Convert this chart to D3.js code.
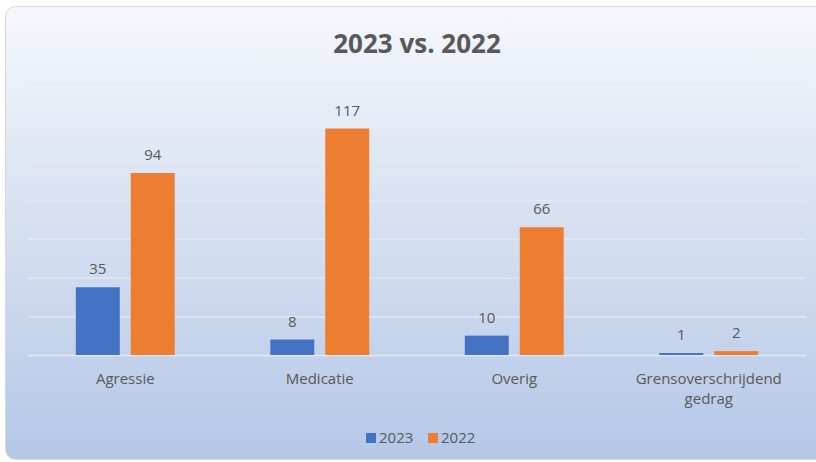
<!DOCTYPE html>
<html>
<head>
<meta charset="utf-8">
<script src="https://cdn.jsdelivr.net/npm/d3@7"></script>
<style>
  body { margin: 0; background: #ffffff; }
  text { font-family: "Open Sans", "Noto Sans", sans-serif; }
</style>
</head>
<body>
<svg id="chart" width="816" height="462"></svg>
<script>
var categories = ["Agressie", "Medicatie", "Overig", "Grensoverschrijdend gedrag"];
var series = ["2023", "2022"];
var values2023 = [35, 8, 10, 1];
var values2022 = [94, 117, 66, 2];
var yTicks = [0, 20, 40, 60, 80, 100, 120, 140];

var colors = { "2023": "#4472c4", "2022": "#ed7d31" };

var width = 816, height = 462;
var svg = d3.select("#chart");

// background with gradient
var defs = svg.append("defs");
var grad = defs.append("linearGradient")
    .attr("id", "bg")
    .attr("x1", 0).attr("y1", 0)
    .attr("x2", 0).attr("y2", 1);
grad.append("stop").attr("offset", "0%").attr("stop-color", "#f5f7fb");
grad.append("stop").attr("offset", "100%").attr("stop-color", "#b4c7e7");

svg.append("rect")
    .attr("x", 5.5).attr("y", 6.5)
    .attr("width", 820).attr("height", 453)
    .attr("rx", 10).attr("ry", 10)
    .style("fill", "url(#bg)")
    .style("stroke", "#d9d9d9")
    .style("stroke-width", 1);

var margin = { left: 28, right: 10, top: 84, bottom: 107 };
var plotW = width - margin.left - margin.right,
    plotH = height - margin.top - margin.bottom;

var x0 = d3.scaleBand()
    .domain(categories)
    .range([margin.left, margin.left + plotW])
    .paddingInner(0)
    .paddingOuter(0);

var x1 = d3.scaleBand()
    .domain(series)
    .range([0, x0.bandwidth()])
    .paddingInner(0.2)
    .paddingOuter(0.87);

var y = d3.scaleLinear()
    .domain([0, 140])
    .range([margin.top + plotH, margin.top]);

// gridlines
svg.append("g")
    .selectAll("line")
    .data(yTicks)
    .enter().append("line")
    .attr("x1", margin.left)
    .attr("x2", margin.left + plotW)
    .attr("y1", function(d) { return y(d) + 0.5; })
    .attr("y2", function(d) { return y(d) + 0.5; })
    .style("stroke", "#e4e9f1")
    .style("stroke-width", function(d) { return d === 0 ? 1.5 : 1.2; });

// bars
var data = [];
categories.forEach(function(c, i) {
    data.push({ cat: c, s: "2023", v: values2023[i] });
    data.push({ cat: c, s: "2022", v: values2022[i] });
});

var bars = svg.append("g");
bars.selectAll("rect")
    .data(data)
    .enter().append("rect")
    .attr("x", function(d) { return x0(d.cat) + x1(d.s); })
    .attr("y", function(d) { return y(d.v); })
    .attr("width", x1.bandwidth())
    .attr("height", function(d) { return y(0) - y(d.v); })
    .style("fill", function(d) { return colors[d.s]; });

bars.selectAll("text")
    .data(data)
    .enter().append("text")
    .attr("x", function(d) { return x0(d.cat) + x1(d.s) + x1.bandwidth() / 2; })
    .attr("y", function(d) { return y(d.v) - 13; })
    .attr("text-anchor", "middle")
    .style("font-size", "15px")
    .style("fill", "#595959")
    .text(function(d) { return d.v; });

// category axis labels
var xAxis = svg.append("g")
    .attr("transform", "translate(0," + y(0) + ")")
    .call(d3.axisBottom(x0).tickSize(0).tickPadding(0));
xAxis.select(".domain").remove();
xAxis.selectAll(".tick text").remove();

xAxis.selectAll(".tick").each(function(d) {
    var words = d === "Grensoverschrijdend gedrag" ? ["Grensoverschrijdend", "gedrag"] : [d];
    var t = d3.select(this).append("text")
        .attr("text-anchor", "middle")
        .style("font-size", "15px")
        .style("fill", "#595959");
    words.forEach(function(w, i) {
        t.append("tspan").attr("x", 0).attr("y", 29 + i * 20).text(w);
    });
});

// title
svg.append("text")
    .attr("x", 417)
    .attr("y", 53)
    .attr("text-anchor", "middle")
    .style("font-size", "26px")
    .style("font-weight", "bold")
    .style("fill", "#595959")
    .text("2023 vs. 2022");

// legend
var legend = svg.append("g").attr("transform", "translate(366,443)");
var lx = 0;
series.forEach(function(s) {
    var g = legend.append("g").attr("transform", "translate(" + lx + ",0)");
    g.append("rect")
        .attr("x", 0).attr("y", -10)
        .attr("width", 10).attr("height", 10)
        .style("fill", colors[s]);
    g.append("text")
        .attr("x", 13).attr("y", 0)
        .style("font-size", "15px")
        .style("fill", "#595959")
        .text(s);
    lx += 62;
});
</script>
</body>
</html>
